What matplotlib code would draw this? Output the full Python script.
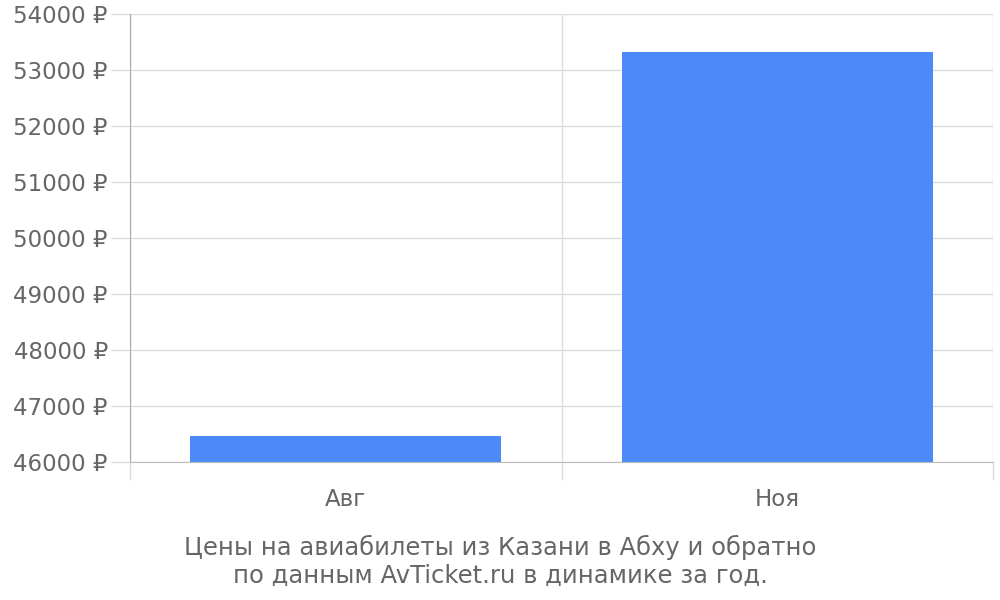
import matplotlib
matplotlib.use("Agg")
import matplotlib.pyplot as plt
from matplotlib.ticker import FuncFormatter

categories = ["Авг", "Ноя"]
prices = [46465, 53330]
y_ticks = [46000, 47000, 48000, 49000, 50000, 51000, 52000, 53000, 54000]
caption = "Цены на авиабилеты из Казани в Абху и обратно\nпо данным AvTicket.ru в динамике за год."

text_color = "#666666"
grid_color = "#dddddd"
bar_color = "#4d8af9"

fig = plt.figure(figsize=(10, 6), dpi=100)
ax = fig.add_axes([0.130, 1 - 462 / 600, 0.863, 448 / 600])

x = [i + 0.5 for i in range(len(categories))]
ax.bar(x, [p - y_ticks[0] for p in prices], bottom=y_ticks[0], width=0.72,
       color=bar_color, zorder=3)

ax.set_xlim(0, len(categories))
ax.set_ylim(y_ticks[0], y_ticks[-1])
ax.set_yticks(y_ticks)
ax.yaxis.set_major_formatter(FuncFormatter(lambda v, p: f"{int(v)} ₽"))
ax.set_xticks(x)
ax.set_xticklabels(categories)
ax.set_xticks(range(len(categories) + 1), minor=True)

ax.tick_params(axis="y", length=14, width=1, color=grid_color, labelsize=16.5,
               labelcolor=text_color, pad=2)
ax.tick_params(axis="x", which="major", length=0, labelsize=16.5,
               labelcolor=text_color, pad=19)
ax.tick_params(axis="x", which="minor", length=13, width=1, color=grid_color)

ax.grid(True, axis="y", color=grid_color, linewidth=1, zorder=0)
ax.grid(True, axis="x", which="minor", color=grid_color, linewidth=1, zorder=0)

for s in ["top", "right"]:
    ax.spines[s].set_visible(False)
ax.spines["left"].set_color("#aaaaaa")
ax.spines["bottom"].set_color("#bbbbbb")

fig.text(0.5, 1 - 561 / 600, caption, ha="center", va="center", fontsize=17.5,
         color=text_color, linespacing=1.2)

fig.savefig("out.png", dpi=100, facecolor="white")
